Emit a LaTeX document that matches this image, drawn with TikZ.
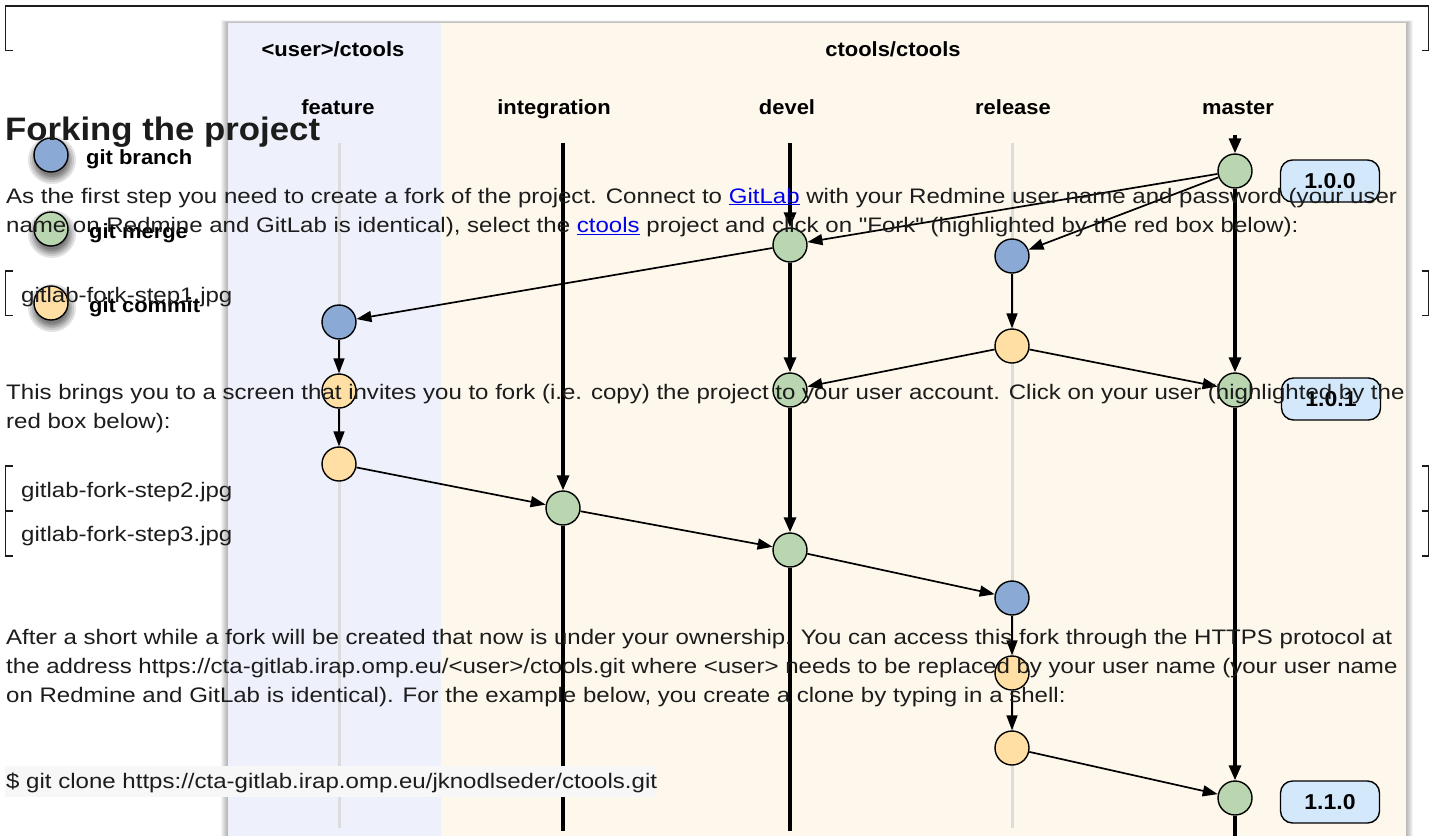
\documentclass[tikz,border=0pt]{standalone}
\usepackage{fontspec}
\setmainfont{Liberation Sans}
\newfontfamily\bodyfont{Liberation Sans}[FakeStretch=1.145]
\newfontfamily\diafont{Liberation Sans}[FakeStretch=1.07]
\usetikzlibrary{arrows.meta}

\definecolor{lav}{HTML}{EEF1FC}
\definecolor{cream}{HTML}{FEF8EC}
\definecolor{brn}{HTML}{8AAAD5}
\definecolor{mrg}{HTML}{B9D6B0}
\definecolor{cmt}{HTML}{FFDFA4}
\definecolor{tagc}{HTML}{D4E8FC}
\definecolor{lanegrey}{HTML}{DCDCDC}
\definecolor{txt}{HTML}{1C1C1C}
\definecolor{linkc}{HTML}{0000EE}
\definecolor{codebg}{HTML}{F7F7F7}

\tikzset{
  gnode/.style={circle,draw=black,line width=1.4pt,minimum size=34pt,inner sep=0pt},
  branchnode/.style={gnode,fill=brn},
  mergenode/.style={gnode,fill=mrg},
  commitnode/.style={gnode,fill=cmt},
  tagbox/.style={draw=black,line width=1.4pt,fill=tagc,rounded corners=12pt,
    minimum width=99pt,minimum height=42pt,inner sep=0pt,
    font=\diafont\bfseries\fontsize{21.5}{24}\selectfont},
  trunk/.style={line width=3.2pt,-{Triangle[length=15pt,width=12pt]}},
  trunkend/.style={line width=3.2pt},
  hop/.style={line width=1.7pt,-{Triangle[length=15pt,width=11pt]}},
  lane/.style={lanegrey,line width=3pt},
  colhead/.style={anchor=base,inner sep=0pt,font=\diafont\bfseries\fontsize{20.5}{24}\selectfont},
  legendtext/.style={anchor=base west,inner sep=0pt,font=\diafont\bfseries\fontsize{20.5}{24}\selectfont},
  bodytext/.style={anchor=base west,inner sep=0pt,text=txt,font=\bodyfont\fontsize{21}{25}\selectfont},
  bracket/.style={draw=txt,line width=1.3pt},
}
\newcommand{\weblink}[1]{\textcolor{linkc}{\underline{#1}}}

\begin{document}
\begin{tikzpicture}[x=1pt,y=-1pt]
\useasboundingbox (0,0) rectangle (1435,836);
\fill[white] (0,0) rectangle (1435,836);

% frames of the missing images
\draw[bracket] (12.5,50.5) -- (5.5,50.5) -- (5.5,6) -- (1428.5,6) -- (1428.5,50.5) -- (1421.5,50.5);
\draw[bracket] (12.5,271) -- (5.5,271) -- (5.5,315.5) -- (12.5,315.5);
\draw[bracket] (1421.5,271) -- (1428.5,271) -- (1428.5,315.5) -- (1421.5,315.5);
\draw[bracket] (12.5,466) -- (5.5,466) -- (5.5,556) -- (12.5,556);
\draw[bracket] (5.5,511) -- (12.5,511);
\draw[bracket] (1421.5,466) -- (1428.5,466) -- (1428.5,556) -- (1421.5,556);
\draw[bracket] (1428.5,511) -- (1421.5,511);

% repository panels with a soft shadow
\foreach \d in {1,...,7}
  \fill[black,opacity=0.045] (228-\d,23-0.4*\d) rectangle (1406+\d,836);
\fill[lav] (228,23) rectangle (441,836);
\fill[cream] (441,23) rectangle (1406,836);

\node[colhead] (tuser) at (333,56) {<user>/ctools};
\node[colhead] (tmain) at (893,56) {ctools/ctools};
\node[colhead] (hfeat) at (338,114) {feature};
\node[colhead] (hint) at (554,114) {integration};
\node[colhead] (hdev) at (787,114) {devel};
\node[colhead] (hrel) at (1013,114) {release};
\node[colhead] (hmas) at (1238,114) {master};

% lane end points
\coordinate (ftop) at (339,143);
\coordinate (fbot) at (339,828);
\coordinate (itop) at (563,143);
\coordinate (ibot) at (563,831);
\coordinate (dtop) at (790,143);
\coordinate (dbot) at (790,831);
\coordinate (rtop) at (1012,143);
\coordinate (rbot) at (1012,828);
\coordinate (mtop) at (1235,135);
\coordinate (mbot) at (1235,836);

\draw[lane] (ftop) -- (fbot);
\draw[lane] (rtop) -- (rbot);

% commits
\node[mergenode]  (M1) at (1235,171) {};
\node[mergenode]  (D1) at (790,245) {};
\node[branchnode] (R1) at (1012,256) {};
\node[branchnode] (F1) at (339,322) {};
\node[commitnode] (R2) at (1012,346) {};
\node[mergenode]  (D2) at (790,390) {};
\node[mergenode]  (M2) at (1235,390) {};
\node[commitnode] (F2) at (339,391) {};
\node[commitnode] (F3) at (339,464) {};
\node[mergenode]  (I1) at (563,508) {};
\node[mergenode]  (D3) at (790,550) {};
\node[branchnode] (R3) at (1012,598) {};
\node[commitnode] (R4) at (1012,673) {};
\node[commitnode] (R5) at (1012,748) {};
\node[mergenode]  (M3) at (1235,798) {};

\node[tagbox] (T1) at (1330,181) {1.0.0};
\node[tagbox] (T2) at (1331,399) {1.0.1};
\node[tagbox] (T3) at (1330,802) {1.1.0};

% long-lived branches
\draw[trunk] (mtop) -- (M1);
\draw[trunk] (M1) -- (M2);
\draw[trunk] (M2) -- (M3);
\draw[trunkend] (M3) -- (mbot);
\draw[trunk] (dtop) -- (D1);
\draw[trunk] (D1) -- (D2);
\draw[trunk] (D2) -- (D3);
\draw[trunkend] (D3) -- (dbot);
\draw[trunk] (itop) -- (I1);
\draw[trunkend] (I1) -- (ibot);

% branching and merging
\draw[hop] (M1) -- (D1);
\draw[hop] (M1) -- (R1);
\draw[hop] (D1) -- (F1);
\draw[hop] (R1) -- (R2);
\draw[hop] (F1) -- (F2);
\draw[hop] (F2) -- (F3);
\draw[hop] (R2) -- (D2);
\draw[hop] (R2) -- (M2);
\draw[hop] (F3) -- (I1);
\draw[hop] (I1) -- (D3);
\draw[hop] (D3) -- (R3);
\draw[hop] (R3) -- (R4);
\draw[hop] (R4) -- (R5);
\draw[hop] (R5) -- (M3);

% legend with blurred drop shadows
\foreach \y in {155,229,303}{
  \foreach \r in {24,22,20,18.5,17,15.5}
    \fill[black,opacity=0.11] (52,\y+5) circle (\r);
}
\node[branchnode] (Lb) at (51,155) {};
\node[mergenode]  (Lm) at (51,229) {};
\node[commitnode] (Lc) at (51,303) {};
\node[legendtext] (Lbt) at (86,164) {git branch};
\node[legendtext] (Lmt) at (89,238) {git merge};
\node[legendtext] (Lct) at (89,312) {git commit};

% page text
\node[anchor=base west,inner sep=0pt,text=txt,font=\diafont\bfseries\fontsize{32.5}{36}\selectfont]
  (head) at (5,140.5) {Forking the project};
\node[bodytext] (p1) at (6,203) {As the first step you need to create a fork of the project. Connect to \weblink{GitLab} with your Redmine user name and password (your user};
\node[bodytext] (p2) at (6,232.5) {name on Redmine and GitLab is identical), select the \weblink{ctools} project and click on "Fork" (highlighted by the red box below):};
\node[bodytext] (s1) at (21,302) {gitlab-fork-step1.jpg};
\node[bodytext] (p3) at (6,399) {This brings you to a screen that invites you to fork (i.e. copy) the project to your user account. Click on your user (highlighted by the};
\node[bodytext] (p4) at (6,428.5) {red box below):};
\node[bodytext] (s2) at (21,497) {gitlab-fork-step2.jpg};
\node[bodytext] (s3) at (21,541) {gitlab-fork-step3.jpg};
\node[bodytext] (p5) at (6,644) {After a short while a fork will be created that now is under your ownership. You can access this fork through the HTTPS protocol at};
\node[bodytext] (p6) at (6,673) {the address https://cta-gitlab.irap.omp.eu/<user>/ctools.git where <user> needs to be replaced by your user name (your user name};
\node[bodytext] (p7) at (6,702) {on Redmine and GitLab is identical). For the example below, you create a clone by typing in a shell:};

\fill[codebg] (5,766) rectangle (656,797);
\node[bodytext] (code) at (6,788) {\$ git clone https://cta-gitlab.irap.omp.eu/jknodlseder/ctools.git};
\end{tikzpicture}
\end{document}
